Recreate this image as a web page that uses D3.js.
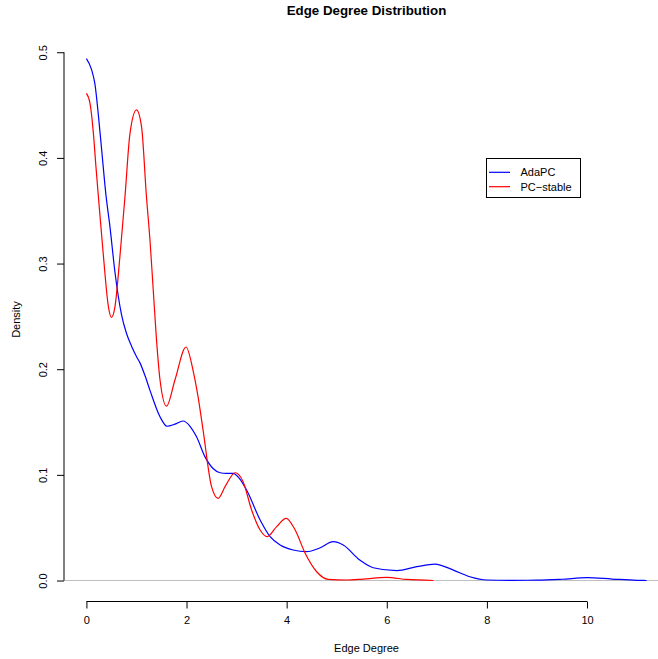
<!DOCTYPE html>
<html>
<head>
<meta charset="utf-8">
<script src="https://cdn.jsdelivr.net/npm/d3@7"></script>
<style>
  html, body { margin: 0; padding: 0; background: #fff; }
  text { font-family: "Liberation Sans", Arial, Helvetica, sans-serif; fill: #000; }
</style>
</head>
<body>
<svg id="chart" width="658" height="659"></svg>
<script>
// Kernel density estimates of edge degree for the two algorithms
const adaX = [0, 0.1, 0.17, 0.24, 0.3, 0.39, 0.47, 0.57, 0.7, 0.8, 0.9, 1.0, 1.07, 1.17, 1.27, 1.47, 1.61, 1.77, 1.93, 2.07, 2.2, 2.37, 2.53, 2.67, 2.8, 2.93, 3.05, 3.2, 3.47, 3.67, 3.87, 4.13, 4.4, 4.67, 4.93, 5.13, 5.46, 5.73, 6.2, 6.6, 6.96, 7.33, 7.66, 8.0, 8.5, 9.0, 9.5, 10.0, 10.5, 11.0, 11.19];
const adaY = [0.494, 0.484, 0.47, 0.44, 0.41, 0.365, 0.335, 0.292, 0.252, 0.234, 0.222, 0.212, 0.206, 0.194, 0.18, 0.155, 0.146, 0.148, 0.151, 0.146, 0.136, 0.117, 0.106, 0.102, 0.1015, 0.1015, 0.097, 0.0857, 0.0573, 0.0415, 0.0336, 0.0289, 0.0273, 0.031, 0.0368, 0.0336, 0.0194, 0.0121, 0.0093, 0.0131, 0.0156, 0.0099, 0.0036, 0.0005, 0.0002, 0.0003, 0.0012, 0.0027, 0.0014, 0.0002, 0];

const pcsX = [0, 0.07, 0.14, 0.19, 0.24, 0.34, 0.44, 0.5, 0.57, 0.67, 0.77, 0.87, 1.0, 1.1, 1.2, 1.27, 1.335, 1.4, 1.47, 1.6, 1.77, 1.99, 2.13, 2.23, 2.33, 2.5, 2.63, 2.77, 2.97, 3.13, 3.3, 3.47, 3.61, 3.8, 3.99, 4.17, 4.37, 4.6, 4.83, 5.2, 5.53, 6.0, 6.4, 6.93];
const pcsY = [0.461, 0.452, 0.423, 0.392, 0.363, 0.307, 0.259, 0.249, 0.259, 0.307, 0.363, 0.423, 0.4455, 0.43, 0.363, 0.322, 0.275, 0.228, 0.19, 0.165, 0.19, 0.221, 0.199, 0.174, 0.1425, 0.0888, 0.0778, 0.0888, 0.102, 0.0936, 0.0668, 0.0478, 0.0415, 0.051, 0.0589, 0.0478, 0.0258, 0.0083, 0.0011, 0.0005, 0.0014, 0.003, 0.001, 0];

const xTicks = [0, 2, 4, 6, 8, 10];
const yTicks = [0, 0.1, 0.2, 0.3, 0.4, 0.5];
const seriesNames = ["AdaPC", "PC\u2212stable"];
const seriesColors = ["#0000ff", "#ff0000"];

const svg = d3.select("#chart");

// Plot region follows R's 4% axis padding around the data range
const x = d3.scaleLinear().domain([-0.4476, 11.6376]).range([64, 669]);
const y = d3.scaleLinear().domain([-0.01976, 0.51376]).range([601.4, 37.7]);

// zero reference line
svg.append("line")
  .attr("x1", 64).attr("x2", 669)
  .attr("y1", y(0)).attr("y2", y(0))
  .attr("stroke", "#bebebe").attr("stroke-width", 1);

// Axes
const xAxis = d3.axisBottom(x).tickValues(xTicks).tickSize(7).tickSizeOuter(0).tickPadding(8)
  .tickFormat(d3.format("d"));
const gx = svg.append("g").attr("transform", "translate(0,601.5)").call(xAxis);
gx.select(".domain").attr("d", `M${x(0)},0H${x(10)}`);
gx.selectAll("text").style("font-size", "11px").style("font-family", "Liberation Sans, Arial, sans-serif");

const yAxis = d3.axisLeft(y).tickValues(yTicks).tickSize(7).tickSizeOuter(0).tickFormat(d3.format(".1f"));
const gy = svg.append("g").attr("transform", "translate(64,0)").call(yAxis);
gy.select(".domain").attr("d", `M0,${y(0)}V${y(0.5)}`);
gy.selectAll(".tick text")
  .attr("x", null).attr("dy", null)
  .attr("text-anchor", "middle")
  .attr("transform", "translate(-21,0) rotate(-90)")
  .attr("dy", "0.35em")
  .style("font-size", "11px").style("font-family", "Liberation Sans, Arial, sans-serif");

// Density curves
const line = d3.line().x(d => x(d[0])).y(d => y(d[1])).curve(d3.curveMonotoneX);
const series = [d3.zip(adaX, adaY), d3.zip(pcsX, pcsY)];
series.forEach((pts, i) => {
  svg.append("path").datum(pts)
    .attr("d", line)
    .attr("fill", "none")
    .attr("stroke", seriesColors[i])
    .attr("stroke-width", 1.2);
});

// Title and axis labels
svg.append("text").attr("x", 366.5).attr("y", 15)
  .attr("text-anchor", "middle").style("font-weight", "bold").style("font-size", "13.3px")
  .text("Edge Degree Distribution");
svg.append("text").attr("x", 366.5).attr("y", 652)
  .attr("text-anchor", "middle").style("font-size", "11px")
  .text("Edge Degree");
svg.append("text")
  .attr("transform", "translate(20,319.5) rotate(-90)")
  .attr("text-anchor", "middle").style("font-size", "11px")
  .text("Density");

// Legend
const lg = svg.append("g");
lg.append("rect").attr("x", 486.5).attr("y", 158.5).attr("width", 94).attr("height", 39)
  .attr("fill", "#fff").attr("stroke", "#000").attr("stroke-width", 1);
seriesNames.forEach((name, i) => {
  const ly = 172.3 + i * 14.4;
  lg.append("line").attr("x1", 489).attr("x2", 510).attr("y1", ly).attr("y2", ly)
    .attr("stroke", seriesColors[i]).attr("stroke-width", 1.2);
  lg.append("text").attr("x", 520.5).attr("y", ly).attr("dy", "0.35em")
    .style("font-size", "11px").text(name);
});
</script>
</body>
</html>
